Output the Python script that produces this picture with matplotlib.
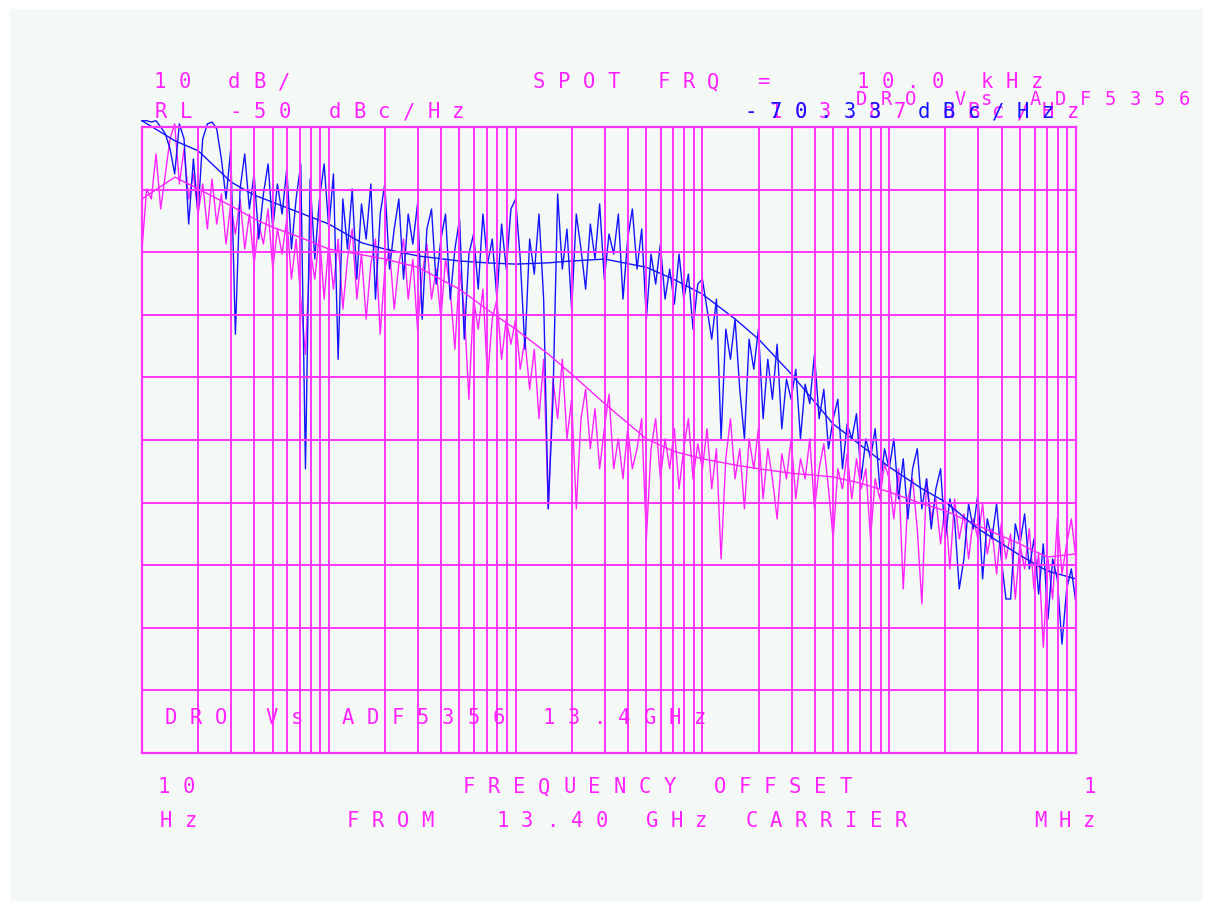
import matplotlib
matplotlib.use("Agg")
import matplotlib.pyplot as plt
from matplotlib.patches import Rectangle
from matplotlib.ticker import LogLocator

W, H = 1213, 912

# measurement points inside one decade (mantissa) and the decades swept
MANT = [1.000, 1.059, 1.122, 1.189, 1.259, 1.334, 1.413, 1.496, 1.585, 1.679,
        1.778, 1.884, 1.995, 2.113, 2.239, 2.371, 2.512, 2.661, 2.818, 2.985,
        3.162, 3.350, 3.548, 3.758, 3.981, 4.217, 4.467, 4.732, 5.012, 5.309,
        5.623, 5.957, 6.310, 6.683, 7.079, 7.499, 7.943, 8.414, 8.913, 9.441]
DECADES = [10, 100, 1000, 10000, 100000]
FREQ = [m * d for d in DECADES for m in MANT] + [1e6]

# DRO trace (blue), dBc/Hz
BLUE_NOISE = [
    -49.0, -49.0, -49.2, -49.0, -50.0, -51.1, -53.5, -57.5, -49.5, -51.9,
    -65.5, -55.1, -63.9, -51.9, -49.5, -49.2, -50.3, -55.1, -61.5, -53.5,
    -83.1, -59.9, -54.3, -63.1, -57.5, -67.9, -60.7, -55.9, -66.3, -59.1,
    -63.9, -56.7, -69.5, -61.5, -55.9, -104.6, -58.3, -71.1, -61.5, -55.9,
    -66.3, -57.5, -87.1, -61.5, -69.5, -59.9, -74.3, -62.3, -67.9, -59.1,
    -77.5, -63.9, -59.1, -72.7, -66.3, -61.5, -74.3, -63.9, -68.7, -62.3,
    -80.7, -66.3, -63.1, -75.1, -67.9, -63.9, -77.5, -69.5, -64.7, -83.9,
    -70.3, -67.1, -75.9, -63.9, -71.9, -67.9, -77.5, -65.5, -72.7, -63.1,
    -61.5, -71.1, -85.5, -67.9, -73.5, -63.9, -77.5, -111.0, -93.5, -60.7,
    -72.7, -66.3, -79.1, -63.9, -69.5, -75.9, -65.5, -71.1, -62.3, -74.3,
    -67.1, -70.3, -63.9, -77.5, -67.9, -63.1, -72.7, -66.3, -80.7, -70.3,
    -75.1, -68.7, -77.5, -72.7, -78.3, -70.3, -77.5, -73.5, -82.3, -75.1,
    -74.3, -79.1, -83.9, -77.5, -99.8, -82.3, -87.1, -80.7, -91.9, -99.8,
    -83.9, -88.7, -82.3, -96.6, -87.1, -93.5, -84.7, -98.2, -90.3, -93.5,
    -88.7, -99.8, -91.1, -94.2, -86.3, -96.6, -91.9, -101.4, -96.6, -93.5,
    -104.6, -97.4, -99.8, -95.8, -106.2, -99.8, -103.0, -98.2, -107.8, -101.4,
    -104.6, -99.8, -109.4, -103.0, -112.6, -104.6, -101.4, -111.0, -106.2, -114.2,
    -107.8, -104.6, -115.8, -109.4, -112.6, -123.8, -119.0, -110.2, -114.2, -108.6,
    -122.2, -112.6, -115.8, -110.2, -119.0, -125.4, -125.4, -113.4, -116.6, -111.8,
    -120.6, -115.8, -124.6, -116.6, -128.6, -119.0, -122.2, -132.6, -123.8, -120.6,
    -126.2]

# ADF5356 trace (magenta), dBc/Hz
PINK_NOISE = [
    -69.5, -59.9, -61.5, -54.3, -63.1, -57.5, -51.9, -49.5, -59.1, -53.5,
    -61.5, -57.5, -63.9, -59.1, -66.3, -58.3, -65.5, -60.7, -68.7, -62.3,
    -67.1, -61.5, -69.5, -63.9, -71.9, -65.5, -68.7, -63.1, -72.7, -66.3,
    -70.3, -64.7, -74.3, -67.9, -77.5, -86.3, -69.5, -74.3, -67.1, -77.5,
    -68.7, -75.9, -67.9, -79.1, -71.1, -66.3, -77.5, -70.3, -80.7, -71.9,
    -67.9, -83.1, -72.7, -69.5, -79.1, -71.9, -67.9, -77.5, -71.1, -82.3,
    -73.5, -68.7, -77.5, -72.7, -80.7, -71.1, -75.9, -85.5, -72.7, -79.1,
    -93.5, -77.5, -82.3, -75.9, -90.3, -80.7, -77.5, -87.1, -80.7, -84.7,
    -80.7, -88.7, -83.9, -91.9, -85.5, -96.6, -87.1, -111.0, -90.3, -96.6,
    -87.1, -99.8, -93.5, -111.0, -96.6, -91.9, -101.4, -95.0, -104.6, -98.2,
    -92.7, -104.6, -99.8, -106.2, -98.2, -104.6, -101.4, -96.6, -115.8, -101.4,
    -96.6, -106.2, -99.8, -104.6, -98.2, -107.8, -101.4, -96.6, -106.2, -100.6,
    -104.6, -98.2, -107.8, -101.4, -119.0, -103.0, -96.6, -106.2, -101.4, -111.0,
    -99.8, -104.6, -98.2, -109.4, -101.4, -106.2, -112.6, -102.2, -106.2, -99.8,
    -109.4, -103.0, -106.2, -99.8, -111.0, -104.6, -100.6, -107.8, -115.8, -104.6,
    -107.8, -102.2, -109.4, -103.0, -107.8, -104.6, -115.8, -106.2, -109.4, -103.8,
    -106.2, -112.6, -104.6, -123.8, -109.4, -106.2, -114.2, -126.2, -106.2, -112.6,
    -109.4, -116.6, -110.2, -120.6, -109.4, -115.8, -111.8, -119.0, -112.6, -115.8,
    -110.2, -118.2, -114.2, -121.4, -113.4, -119.0, -115.0, -125.4, -116.6, -120.6,
    -114.2, -123.8, -118.2, -133.1, -119.0, -125.4, -112.6, -121.4, -116.6, -112.6,
    -119.0]

# smoothed traces
SMOOTH_FREQ = [10, 15, 20, 30, 40, 50, 70, 100, 150, 200, 300, 500, 700,
               1e3, 1.5e3, 2e3, 3e3, 5e3, 7e3, 1e4, 1.5e4, 2e4, 3e4, 5e4, 7e4,
               1e5, 1.5e5, 2e5, 3e5, 5e5, 7e5, 1e6]
BLUE_SMOOTH = [-49.0, -52.2, -53.8, -58.8, -60.9, -62.0, -63.7, -65.5, -68.5, -69.5,
               -70.6, -71.4, -71.7, -71.9, -71.7, -71.4, -71.1, -72.4, -74.3, -76.7,
               -80.7, -83.9, -89.5, -97.4, -100.8, -104.3, -107.8, -109.9, -114.2,
               -118.4, -120.9, -122.2]
PINK_SMOOTH = [-61.5, -58.0, -59.9, -62.6, -64.7, -66.0, -67.6, -69.5, -70.4, -71.1,
               -72.4, -75.9, -79.1, -82.3, -86.3, -89.5, -94.2, -99.8, -101.8, -103.0,
               -104.0, -104.6, -105.3, -105.9, -106.9, -108.3, -110.2, -111.3, -113.7,
               -116.6, -118.7, -118.2]

PINK = "#ff22ff"
BLUE = "#1414ff"
GRID = "#ff33ff"
BG = "#f5f9f5"


def plotter_text(fig, x, y, text, color, size=14.8, pitch=24.8):
    """Escreve o texto caractere a caractere, como o plotter HP (x = centro do 1o char)."""
    for i, ch in enumerate(text):
        if ch == " ":
            continue
        fig.text((x + i * pitch) / W, 1 - y / H, ch, color=color, fontsize=size,
                 family="DejaVu Sans Mono", ha="center", va="baseline")


fig = plt.figure(figsize=(W / 100, H / 100), dpi=100, facecolor="white")
fig.patches.append(Rectangle((10 / W, 10 / H), 1 - 20 / W, 1 - 20 / H,
                             transform=fig.transFigure, facecolor=BG,
                             edgecolor="none", zorder=-10))

ax = fig.add_axes([142 / W, 1 - 754 / H, (1076 - 142) / W, (754 - 128) / H])
ax.set_facecolor("none")
ax.set_xscale("log")
ax.set_xlim(10, 1e6)
ax.set_ylim(-150, -50)
ax.set_yticks(range(-150, -49, 10))
ax.xaxis.set_major_locator(LogLocator(base=10, numticks=20))
ax.xaxis.set_minor_locator(LogLocator(base=10, subs=range(2, 10), numticks=20))
ax.tick_params(which="both", length=0, labelbottom=False, labelleft=False)
ax.set_axisbelow(False)
ax.grid(which="both", axis="x", color=GRID, lw=1.4)
ax.grid(which="major", axis="y", color=GRID, lw=1.4)
for s in ax.spines.values():
    s.set_color(GRID)
    s.set_linewidth(1.6)

ax.plot(FREQ, PINK_NOISE, color=PINK, lw=1.0, clip_on=False)
ax.plot(FREQ, BLUE_NOISE, color=BLUE, lw=1.0, clip_on=False)
ax.plot(SMOOTH_FREQ, PINK_SMOOTH, color=PINK, lw=1.0, clip_on=False)
ax.plot(SMOOTH_FREQ, BLUE_SMOOTH, color=BLUE, lw=1.0, clip_on=False)

# cabeçalho
plotter_text(fig, 160, 88, "10 dB/", PINK)
plotter_text(fig, 161, 118, "RL -50 dBc/Hz", PINK)
plotter_text(fig, 539, 88, "SPOT FRQ =   10.0 kHz", PINK, pitch=24.9)
plotter_text(fig, 751, 118, "-103.87 dBc/Hz", PINK, pitch=24.75)
plotter_text(fig, 751, 118, "-70.33 dBc/Hz", BLUE, pitch=24.75)
plotter_text(fig, 861, 105, "DRO Vs ADF5356", PINK, size=13.5, pitch=24.9)

# legenda dentro do gráfico
plotter_text(fig, 171, 724, "DRO Vs ADF5356 13.4GHz", PINK, pitch=25.2)

# eixo x
plotter_text(fig, 164, 793, "10", PINK)
plotter_text(fig, 469, 793, "FREQUENCY OFFSET", PINK, pitch=25.1)
plotter_text(fig, 1090, 793, "1", PINK)
plotter_text(fig, 166, 827, "Hz", PINK)
plotter_text(fig, 353, 827, "FROM  13.40 GHz CARRIER", PINK, pitch=24.9)
plotter_text(fig, 1040, 827, "MHz", PINK)

fig.savefig("out.png", dpi=100, facecolor=fig.get_facecolor())
